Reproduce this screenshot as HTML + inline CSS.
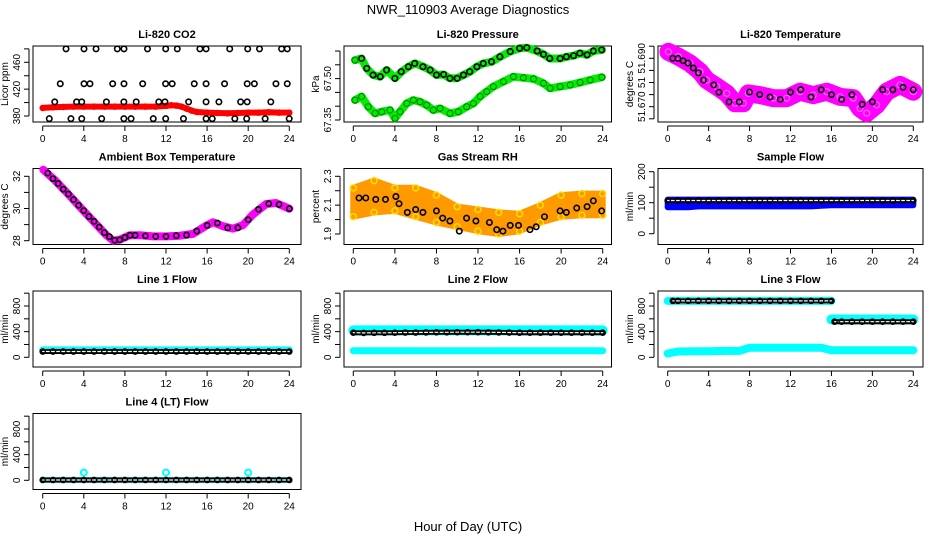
<!DOCTYPE html>
<html><head><meta charset="utf-8">
<style>
html,body{margin:0;padding:0;background:#fff;}
svg{display:block;font-family:"Liberation Sans",sans-serif;}
</style></head>
<body>
<svg id="chart" width="936" height="540" viewBox="0 0 936 540" xmlns="http://www.w3.org/2000/svg">
<text x="468" y="14" font-size="13" text-anchor="middle">NWR_110903  Average Diagnostics</text>
<text x="468" y="531" font-size="13" text-anchor="middle">Hour of Day (UTC)</text>
</svg>
<script>
// ---- data ----
const xTicks = [0,4,8,12,16,20,24];
// CO2
const co2BandH = [0,1,2,3,4,5,6,7,8,9,10,11,12,12.5,13,13.5,14,14.5,15,16,17,18,19,20,21,22,23,24];
const co2BandV = [392,393,393.5,394,394,394,394,394,394,394,394,394,395,396,395.5,394,391,388,386,385,384.5,384,384.5,385,385,385.5,385,385];
const co2TopH = [2.27,4.02,5.19,7.26,7.91,10.2,11.97,13.1,15.3,15.9,18.2,19.95,21.1,23.25,23.8];
const co2TopV = [480,480,480,480,480,480,480,480,480,480,480,480,480,480,480];
const co2MidH = [1.71,4.02,4.6,6.81,7.91,9.73,11.96,12.6,14.75,15.9,17.7,19.9,20.6,22.7,23.8];
const co2MidV = [428,428,428,428,428,428,428,428,428,428,428,428,428,428,428];
const co2LowH = [1.17,3.3,3.8,6.2,7.9,9.1,11.3,11.9,14.2,15.9,17.15,19.26,19.9,22.2];
const co2LowV = [401,401,401,401,401,401,401,401,401,401,401,401,401,401];
const co2BotH = [0.64,2.75,3.8,5.74,7.9,8.6,10.76,11.97,13.7,15.9,16.5,18.7,19.85,21.65,23.99];
const co2BotV = [376,376,376,376,376,376,376,376,376,376,376,376,376,376,376];
// Pressure
const presUpH = [0.16,0.8,1.28,1.93,2.57,3.21,4.01,4.65,5.3,5.94,6.74,7.38,8.03,8.67,9.31,9.95,10.6,11.24,11.88,12.52,13.32,14.13,15.09,16.05,16.69,17.66,18.3,18.94,19.9,20.55,21.19,21.83,22.47,23.11,23.92];
const presUpV = [67.567,67.573,67.537,67.513,67.507,67.531,67.501,67.525,67.543,67.555,67.543,67.531,67.513,67.515,67.501,67.501,67.513,67.525,67.543,67.555,67.561,67.579,67.598,67.610,67.612,67.600,67.588,67.573,67.573,67.579,67.583,67.592,67.586,67.600,67.604];
const presLoH = [0.16,0.8,1.44,2.09,2.73,3.53,4.01,4.49,5.14,5.78,6.42,7.06,7.7,8.35,9.31,10.11,10.91,11.56,12.2,12.84,13.48,14.45,15.41,16.37,17.34,18.3,18.94,19.9,20.87,21.83,22.79,23.92];
const presLoV = [67.422,67.435,67.398,67.374,67.38,67.386,67.356,67.38,67.41,67.422,67.416,67.404,67.386,67.392,67.374,67.38,67.398,67.41,67.435,67.453,67.471,67.489,67.507,67.503,67.499,67.483,67.465,67.471,67.477,67.486,67.495,67.505];
const presBlkH = [0.8,1.3,1.9,2.6,3.2,4.0,4.6,5.3,5.9,6.7,7.4,8.0,8.7,9.3,10.0,10.6,11.2,11.9,12.5,13.3,14.1,15.1,16.0,16.7,17.7,18.3,18.9,19.9,20.5,21.2,21.8,22.5,23.1,23.9];
const presBlkV = [67.573,67.537,67.513,67.507,67.531,67.501,67.525,67.543,67.555,67.543,67.531,67.513,67.515,67.501,67.501,67.513,67.525,67.543,67.555,67.561,67.579,67.598,67.610,67.612,67.600,67.588,67.573,67.573,67.579,67.583,67.592,67.586,67.600,67.604];
// Li-820 temperature
const tempBandH = [0.07,1.04,2.18,3.16,3.81,4.79,5.77,6.58,7.39,7.88,9.02,10.33,11.63,12.93,14.23,15.54,16.84,18.14,18.79,19.45,20.42,21.4,22.7,24];
const tempBandV = [51.6927,51.6907,51.6879,51.6845,51.6810,51.6783,51.6755,51.6714,51.6714,51.6755,51.6748,51.6735,51.6735,51.6762,51.6748,51.6762,51.6741,51.6735,51.6693,51.6673,51.6707,51.6762,51.6790,51.6762];
const tempBlkH = [0.5,1,1.5,2,2.5,3,3.5,4.5,5,6,7,8,9,10,11,12,13,14,15,16,17,18,19,20,21,22,23,24];
const tempBlkV = [51.690,51.690,51.689,51.688,51.686,51.684,51.681,51.679,51.676,51.672,51.672,51.676,51.675,51.674,51.673,51.676,51.677,51.674,51.677,51.675,51.673,51.675,51.671,51.672,51.677,51.677,51.678,51.677];
// Ambient box temperature
const ambBandH = [0.06,1.2,2.33,3.95,5.24,6.21,6.86,7.51,8.48,9.45,10.74,12.04,13.33,14.63,15.92,16.57,17.54,18.51,19.48,20.45,21.75,22.72,24];
const ambBandV = [32.41,31.75,31.0,29.87,29.0,28.34,28.0,28.07,28.34,28.34,28.27,28.27,28.31,28.42,28.94,29.14,28.9,28.75,28.96,29.62,30.28,30.34,29.99];
const ambBlkH = [0.5,1,1.5,2,2.5,3,3.5,4,4.5,5,5.5,6,6.5,7,7.5,8,8.5,9,10,11,12,13,14,15,16,17,18,19,20,21,22,23,24];
const ambBlkV = [32.2,31.85,31.55,31.2,30.9,30.55,30.2,29.87,29.5,29.2,28.85,28.5,28.25,28.03,28.05,28.2,28.34,28.34,28.3,28.27,28.27,28.31,28.35,28.6,28.95,29.1,28.8,28.8,29.3,29.95,30.3,30.25,29.99];
// Gas stream RH
const rhBandH = [0,2,4,6,8,10,12,14,16,18,20,22,24];
const rhBandHi = [2.22,2.27,2.22,2.22,2.17,2.09,2.07,2.05,2.04,2.10,2.17,2.18,2.18];
const rhBandLo = [2.02,2.05,2.06,2.02,1.98,1.95,1.92,1.90,1.92,1.98,2.02,2.03,2.03];
const rhBlkH = [0.55,1.2,2.16,3.1,4.1,4.4,5.2,6.0,6.7,8.0,8.6,9.3,10.2,10.9,11.8,13.1,13.8,14.4,15.1,15.9,17.0,17.6,18.4,19.9,20.5,21.5,22.5,23.1,23.9];
const rhBlkV = [2.15,2.15,2.14,2.14,2.16,2.11,2.05,2.07,2.05,2.06,2.01,1.99,1.92,2.01,1.99,1.98,1.93,1.92,1.96,1.96,1.93,1.95,2.02,2.06,2.05,2.08,2.09,2.13,2.06];
// Flows (hourly)
const hourly = [0,1,2,3,4,5,6,7,8,9,10,11,12,13,14,15,16,17,18,19,20,21,22,23,24];
const sampleHi = [110,110,110,110,110,110,110,110,110,110,110,110,110,110,110,110,110,110,110,110,110,110,110,110,110];
const sampleLo = [85,85,85,88,88,88,88,88,88,88,88,88,88,88,88,90,92,92,92,92,92,92,92,92,92];
const sampleBlk = [107,107,107,107,107,107,107,107,107,107,107,107,107,107,107,107,107,107,107,107,107,107,107,107,107];
const line1Cyan = [115,115,115,115,115,115,115,115,115,115,115,115,115,115,115,115,115,115,115,115,115,115,115,115,115];
const line1Blk = [90,90,90,90,90,90,90,90,90,90,90,90,90,90,90,90,90,90,90,90,90,90,90,90,90];
const line2Hi = [420,420,420,420,420,420,420,420,420,420,420,420,420,420,420,420,420,420,420,420,420,420,420,420,420];
const line2Lo = [103,103,103,103,103,103,103,103,103,103,103,103,103,103,103,103,103,103,103,103,103,103,103,103,103];
const line2Blk = [384,380,382,382,384,386,386,388,390,390,392,392,392,390,388,386,384,384,384,384,384,384,384,384,384];
const line3HiAH = [0,1,2,3,4,5,6,7,8,9,10,11,12,13,14,15,16];
const line3HiA = [880,880,880,880,880,880,880,880,880,880,880,880,880,880,880,880,880];
const line3HiBH = [16,17,18,19,20,21,22,23,24];
const line3HiB = [590,590,590,590,590,590,590,590,590];
const line3BlkAH = [0.5,1,2,3,4,5,6,7,8,9,10,11,12,13,14,15,16];
const line3BlkA = [880,880,880,880,880,880,880,880,880,880,880,880,880,880,880,880,880];
const line3BlkBH = [16.3,17,18,19,20,21,22,23,24];
const line3BlkB = [555,555,555,555,555,555,555,555,555];
const line3Lo = [60,90,92,95,95,98,100,100,150,150,150,150,150,150,150,150,110,110,110,110,110,110,110,110,110];
const line4Blk = [5,5,5,5,5,5,5,5,5,5,5,5,5,5,5,5,5,5,5,5,5,5,5,5,5];
const line4SpikeH = [4,12,20];
const line4SpikeV = [120,120,120];

// ---- layout ----
const NS = 'http://www.w3.org/2000/svg';
const svg = document.getElementById('chart');
const cols = [{L:33,R:301,x0:42.7,x24:289.3},{L:344,R:611.5,x0:353.3,x24:602.7},{L:658,R:923,x0:667.7,x24:913.3}];
const rowTop = [46,168.5,291,413.5], rowH = 76;
function el(tag, attrs, parent){const e=document.createElementNS(NS,tag);for(const k in attrs)e.setAttribute(k,attrs[k]);(parent||svg).appendChild(e);return e;}

function panel(col,row,title,ylab,v1,y1,v2,y2,ticks,labels,xlab){
  const c=cols[col], top=rowTop[row], bot=top+rowH;
  const g=el('g',{});
  
  
  const sx=h=>c.x0+h*(c.x24-c.x0)/24;
  const sy=v=>y1+(v-v1)*(y2-y1)/(v2-v1);
  const t=el('text',{x:(c.L+c.R)/2,y:top-8,'font-size':11,'font-weight':'bold','text-anchor':'middle'},g);t.textContent=title;
  
  
  const box=el('rect',{x:c.L,y:top,width:c.R-c.L,height:rowH,fill:'none',stroke:'#000','stroke-width':1},g);
  
  
  // x axis
  el('line',{x1:sx(0),x2:sx(24),y1:bot+4,y2:bot+4,stroke:'#000'},g);
  xTicks.forEach(h=>{el('line',{x1:sx(h),x2:sx(h),y1:bot+4,y2:bot+9,stroke:'#000'},g);
    if(xlab){const l=el('text',{x:sx(h),y:bot+20,'font-size':10,'text-anchor':'middle'},g);l.textContent=h;
      
      }});
  // y axis
  const ax=c.L-4;
  el('line',{x1:ax,x2:ax,y1:sy(ticks[0]),y2:sy(ticks[ticks.length-1]),stroke:'#000'},g);
  ticks.forEach(v=>el('line',{x1:ax-5,x2:ax,y1:sy(v),y2:sy(v),stroke:'#000'},g));
  labels.forEach(([v,s])=>{const yy=sy(v);const l=el('text',{x:0,y:0,'font-size':10,'text-anchor':'middle',transform:`translate(${ax-9},${yy}) rotate(-90)`},g);l.textContent=s;
    
    });
  const yl=el('text',{x:0,y:0,'font-size':10,'text-anchor':'middle',transform:`translate(${c.L-25},${top+rowH/2}) rotate(-90)`},g);yl.textContent=ylab;
  
  
  return {g,sx,sy};
}
function band(p,H,V,color,w,name){
  const pts=H.map((h,i)=>p.sx(h).toFixed(1)+','+p.sy(V[i]).toFixed(1)).join(' ');
  const l=el('polyline',{points:pts,fill:'none',stroke:color,'stroke-width':w,'stroke-linecap':'round','stroke-linejoin':'round'},p.g);
  
  
}
function areaBand(p,H,Hi,Lo,color,name){
  const up=H.map((h,i)=>p.sx(h).toFixed(1)+','+p.sy(Hi[i]).toFixed(1));
  const dn=H.map((h,i)=>p.sx(h).toFixed(1)+','+p.sy(Lo[i]).toFixed(1)).reverse();
  const a=el('polygon',{points:up.concat(dn).join(' '),fill:color,stroke:color,'stroke-width':6,'stroke-linejoin':'round'},p.g);
  
  
}
function circles(p,H,V,color,r,sw,name){
  H.forEach((h,i)=>{const c=el('circle',{cx:p.sx(h),cy:p.sy(V[i]),r:r,fill:'none',stroke:color,'stroke-width':sw},p.g);
    
    });
}
function chain(p,H,V,name){
  band(p,H,V,'#000',5,name+'-chain');
  band(p,H,V,'#fff',1.2,name+'-chain-core');
  circles(p,H,V,'#000',2.6,1.4,name);
}

// CO2
let p=panel(0,0,'Li-820 CO2','Licor ppm',380,116,460,62.3,[380,400,420,440,460,480],[[380,'380'],[420,'420'],[460,'460']],true);
band(p,co2BandH,co2BandV,'#ff0000',6,'co2-band');
circles(p,co2BandH,co2BandV,'#ff0000',2.5,1.5,'co2-point');
[[co2TopH,co2TopV],[co2MidH,co2MidV],[co2LowH,co2LowV],[co2BotH,co2BotV]].forEach(([H,V])=>circles(p,H,V,'#000',2.7,1.6,'co2-mean-point'));
// Pressure
p=panel(1,0,'Li-820 Pressure','kPa',67.35,120,67.50,78.6,[67.35,67.40,67.45,67.50,67.55,67.60],[[67.35,'67.35'],[67.50,'67.50']],true);
band(p,presUpH,presUpV,'#00ee00',8,'pressure-upper-band');
band(p,presLoH,presLoV,'#00ee00',8,'pressure-lower-band');
circles(p,presUpH,presUpV,'#007700',3,1,'pressure-upper-point');
circles(p,presLoH,presLoV,'#007700',3,1,'pressure-lower-point');
circles(p,presBlkH,presBlkV,'#000',2.7,1.6,'pressure-mean-point');
// Temperature
p=panel(2,0,'Li-820 Temperature','degrees C',51.670,106.7,51.690,58.3,[51.665,51.670,51.675,51.680,51.685,51.690,51.695],[[51.670,'51.670'],[51.680,'51'],[51.690,'51.690']],true);
band(p,tempBandH,tempBandV,'#ff00ff',18,'temperature-band');
circles(p,tempBandH,tempBandV,'#ff66ff',3,1.2,'temperature-point');
circles(p,tempBlkH,tempBlkV,'#000',2.7,1.6,'temperature-mean-point');
// Ambient
p=panel(0,1,'Ambient Box Temperature','degrees C',28,240.7,32,176.3,[28,29,30,31,32],[[28,'28'],[30,'30'],[32,'32']],true);
band(p,ambBandH,ambBandV,'#ff00ff',8,'ambient-band');
circles(p,ambBlkH,ambBlkV,'#000',2.6,1.6,'ambient-mean-point');
// RH
p=panel(1,1,'Gas Stream RH','percent',1.9,234,2.3,176.3,[1.9,2.0,2.1,2.2,2.3],[[1.9,'1.9'],[2.1,'2.1'],[2.3,'2.3']],true);
areaBand(p,rhBandH,rhBandHi,rhBandLo,'#ff9900','rh-band');
circles(p,rhBandH,rhBandHi,'#ffdd00',3,1.5,'rh-upper-point');
circles(p,rhBandH,rhBandLo,'#ffdd00',3,1.5,'rh-lower-point');
circles(p,rhBlkH,rhBlkV,'#000',2.7,1.6,'rh-mean-point');
// Sample flow
p=panel(2,1,'Sample Flow','ml/min',0,233.7,200,171.7,[0,50,100,150,200],[[0,'0'],[100,'100'],[200,'200']],true);
areaBand(p,hourly,sampleHi,sampleLo,'#0000ff','sample-flow-band');
chain(p,hourly,sampleBlk,'sample-flow-mean');
// Flows
const fT=[0,200,400,600,800,1000], fL=[[0,'0'],[400,'400'],[800,'800']];
p=panel(0,2,'Line 1 Flow','ml/min',0,357.3,800,306,fT,fL,true);
band(p,hourly,line1Cyan,'#00ffff',7,'line1-band');
chain(p,hourly,line1Blk,'line1-mean');
p=panel(1,2,'Line 2 Flow','ml/min',0,357.3,800,306,fT,fL,true);
band(p,hourly,line2Hi,'#00ffff',10,'line2-upper-band');
band(p,hourly,line2Lo,'#00ffff',7,'line2-lower-band');
chain(p,hourly,line2Blk,'line2-mean');
p=panel(2,2,'Line 3 Flow','ml/min',0,357.3,800,306,fT,fL,true);
band(p,line3HiAH,line3HiA,'#00ffff',8,'line3-upper-band-a');
band(p,line3HiBH,line3HiB,'#00ffff',10,'line3-upper-band-b');
band(p,hourly,line3Lo,'#00ffff',8,'line3-lower-band');
chain(p,line3BlkAH,line3BlkA,'line3-mean-a');
chain(p,line3BlkBH,line3BlkB,'line3-mean-b');
p=panel(0,3,'Line 4 (LT) Flow','ml/min',0,357.3+123,800,306+123,fT,fL,true);
band(p,hourly,line4Blk,'#00ffff',6,'line4-band');
chain(p,hourly,line4Blk,'line4-mean');
circles(p,line4SpikeH,line4SpikeV,'#00ffff',3,2,'line4-spike');
</script>
</body></html>
